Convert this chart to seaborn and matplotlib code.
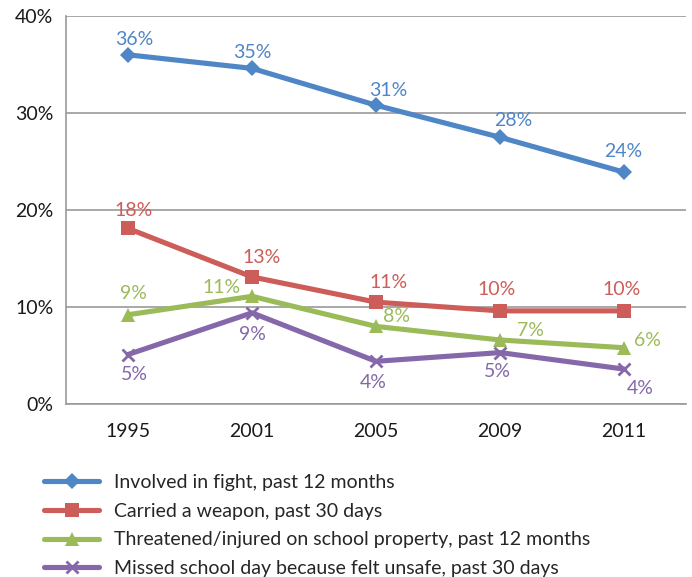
import matplotlib
matplotlib.use("Agg")
import matplotlib.pyplot as plt
import seaborn as sns
import pandas as pd
import numpy as np
from matplotlib.ticker import FixedLocator, FuncFormatter

years = ["1995", "2001", "2005", "2009", "2011"]
series_names = [
    "Involved in fight, past 12 months",
    "Carried a weapon, past 30 days",
    "Threatened/injured on school property, past 12 months",
    "Missed school day because felt unsafe, past 30 days",
]
fight = [36.0, 34.6, 30.8, 27.5, 23.9]
weapon = [18.1, 13.1, 10.5, 9.6, 9.6]
threatened = [9.2, 11.1, 8.0, 6.6, 5.8]
missed = [5.1, 9.4, 4.4, 5.3, 3.6]
labels_fight = ["36%", "35%", "31%", "28%", "24%"]
labels_weapon = ["18%", "13%", "11%", "10%", "10%"]
labels_threat = ["9%", "11%", "8%", "7%", "6%"]
labels_missed = ["5%", "9%", "4%", "5%", "4%"]
y_ticks = [0, 10, 20, 30, 40]

colors = ["#4F86C6", "#CC5D58", "#9BBB59", "#8468AA"]
markers = ["D", "s", "^", "x"]
msizes = [8, 10, 10, 9]

all_vals = [fight, weapon, threatened, missed]
all_labels = [labels_fight, labels_weapon, labels_threat, labels_missed]

rows = []
for name, vals in zip(series_names, all_vals):
    for i, (yr, v) in enumerate(zip(years, vals)):
        rows.append({"pos": i, "year": yr, "value": v, "series": name})
df = pd.DataFrame(rows)

sns.set_style("white")
plt.rcParams["font.family"] = ["Lato", "DejaVu Sans"]

FS = 14

fig = plt.figure(figsize=(6.92, 5.77), dpi=100)
ax = fig.add_axes([66/692, 1-404/577, 620/692, 388/577])

for idx, name in enumerate(series_names):
    sub = df[df["series"] == name]
    sns.lineplot(data=sub, x="pos", y="value", ax=ax, color=colors[idx],
                 linewidth=3.7, marker=markers[idx], markersize=msizes[idx],
                 markeredgewidth=2 if markers[idx] == "x" else 0,
                 markeredgecolor=colors[idx], label=name, zorder=3)

# label offsets in pixels (dx, dy up)
offsets = [
    [(6, 15), (0, 16), (12, 15), (13, 17), (-1, 21)],
    [(6, 18), (10, 19), (13, 20), (-3, 21), (-2, 21)],
    [(5, 21), (-30, 9), (21, 10), (30, 9), (23, 7)],
    [(6, -20), (0, -22), (-3, -21), (-3, -19), (16, -19)],
]
for idx in range(4):
    for i, (v, lab) in enumerate(zip(all_vals[idx], all_labels[idx])):
        dx, dy = offsets[idx][i]
        ax.annotate(lab, (i, v), xytext=(dx, dy), textcoords="offset pixels",
                    ha="center", va="center", color=colors[idx], fontsize=FS)

ax.set_xlim(-0.5, 4.5)
ax.set_ylim(0, 40)
ax.set_xticks(range(len(years)))
ax.set_xticklabels(years, fontsize=FS, color="#1a1a1a")
ax.xaxis.set_minor_locator(FixedLocator(np.arange(-0.5, 5, 1)))
ax.tick_params(axis="x", which="major", length=0, pad=14)
ax.tick_params(axis="x", which="minor", length=5, width=1.2, color="#999999", direction="out")
ax.set_yticks(y_ticks)
ax.yaxis.set_major_formatter(FuncFormatter(lambda v, p: f"{int(v)}%"))
ax.tick_params(axis="y", which="major", length=5, width=1.2, color="#999999",
               direction="out", labelsize=FS, labelcolor="#1a1a1a", pad=4)
ax.grid(axis="y", color="#999999", linewidth=1.2)
ax.set_axisbelow(True)
for s in ["top", "right"]:
    ax.spines[s].set_visible(False)
for s in ["left", "bottom"]:
    ax.spines[s].set_color("#999999")
    ax.spines[s].set_linewidth(1.2)
ax.set_xlabel("")
ax.set_ylabel("")

handles, labs = ax.get_legend_handles_labels()
if ax.legend_:
    ax.legend_.remove()
fig.legend(handles, labs, loc="upper left", bbox_to_anchor=(44/692, 1-474/577),
           frameon=False, fontsize=FS, handlelength=2.85, handletextpad=0.75,
           labelspacing=0.6, borderpad=0, borderaxespad=0)

fig.savefig("out.png", dpi=100)
